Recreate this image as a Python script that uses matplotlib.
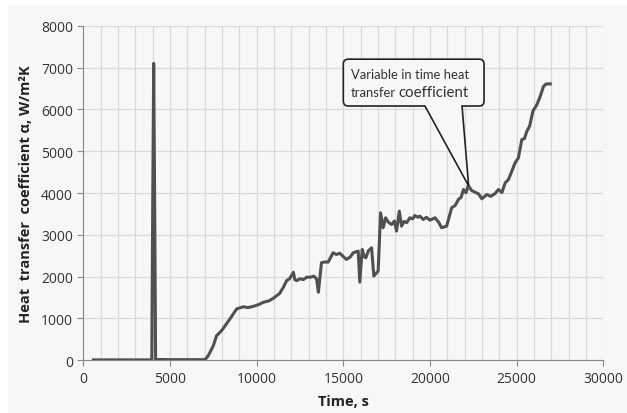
import matplotlib.pyplot as plt
from matplotlib.path import Path
from matplotlib.patches import PathPatch, Rectangle

# time, s
time = [580, 1500, 3000, 3950, 4000, 4060, 4120, 4170, 5000, 6000, 7020,
        7210, 7500, 7690, 7980, 8460, 8850, 9230, 9500, 9810, 10100, 10380,
        10700, 10960, 11330, 11540, 11730, 11900, 12120, 12200, 12310,
        12500, 12700, 12900, 13080, 13300, 13460, 13560,
        13740, 13900, 14125, 14410, 14600, 14800, 15000, 15180, 15400,
        15570, 15860, 15950, 16090, 16200,
        16300, 16450, 16630, 16760, 17010, 17150, 17300, 17440, 17600,
        17790, 17950, 18070, 18230, 18360, 18500, 18650, 18840, 19000,
        19130, 19300, 19420, 19610, 19800, 20000, 20290, 20500, 20670,
        20960, 21250, 21450, 21640, 21800, 21930, 22080, 22210, 22400,
        22600, 22800, 22990, 23280, 23500, 23760, 23950, 24150, 24340,
        24530, 24700, 24910, 25100, 25300, 25450, 25590, 25750, 25935,
        26170, 26350, 26550, 26700, 26940]
# heat transfer coefficient, W/m2K
alpha = [10, 10, 10, 10, 3500, 7100, 3500, 20, 15, 15, 15,
         110, 350, 590, 710, 990, 1230, 1280, 1260, 1290, 1330, 1386,
         1420, 1482, 1600, 1745, 1904, 1950, 2104, 1930, 1904,
         1950, 1930, 1990, 1985, 2010, 1944, 1626,
         2333, 2350, 2348, 2571, 2530, 2560, 2480, 2412, 2470,
         2571, 2610, 1870, 2650, 2480,
         2450, 2620, 2690, 2014, 2133, 3527, 3170, 3408, 3300,
         3248, 3330, 3089, 3566, 3207, 3320, 3290, 3408, 3380,
         3463, 3420, 3447, 3367, 3420, 3350, 3408, 3300, 3170,
         3207, 3646, 3700, 3845, 3900, 4084, 4005, 4179, 4060,
         4020, 3980, 3861, 3964, 3920, 3988, 4084, 4010, 4243,
         4322, 4500, 4721, 4840, 5278, 5300, 5476, 5600, 5954,
         6113, 6300, 6550, 6608, 6608]

plt.rcParams['font.family'] = ['Open Sans', 'DejaVu Sans']

bg = '#f7f7f7'
fig = plt.figure(figsize=(6.27, 4.14), dpi=100, facecolor='white')
fig.patches.append(Rectangle((8 / 627, 0), 1, 1 - 7 / 414, transform=fig.transFigure,
                             facecolor=bg, edgecolor='none', zorder=-10))
ax = fig.add_axes([0.1329, 0.1273, 0.8293, 0.8082])
ax.set_facecolor(bg)

ax.plot(time, alpha, color='#505050', lw=2.2, zorder=3)

ax.set_xlim(0, 30000)
ax.set_ylim(0, 8000)
ax.set_xticks(range(0, 30001, 5000))
ax.set_xticks(range(0, 30001, 1000), minor=True)
ax.set_yticks(range(0, 8001, 1000))
ax.grid(True, which='both', axis='x', color='#d9d9d9', lw=0.9)
ax.grid(True, which='major', axis='y', color='#d9d9d9', lw=0.9)
ax.set_axisbelow(True)
for s in ['top', 'right']:
    ax.spines[s].set_visible(False)
for s in ['left', 'bottom']:
    ax.spines[s].set_color('#888888')
ax.tick_params(axis='both', which='major', length=4, color='#888888',
               labelsize=10, labelcolor='#333333')
ax.tick_params(axis='x', which='minor', length=0)

ax.set_xlabel('Time, s', fontsize=10.5, fontweight='bold', color='#222222', labelpad=6)
ax.set_ylabel('Heat  transfer  coefficient α, W/m²K', fontsize=10.5,
              fontweight='bold', color='#222222', labelpad=6)

# callout
L, R, B, T = 15000, 23120, 6080, 7200
w1, w2 = 19710, 21850
tip = (22230, 4170)
rx, ry = 290, 120
verts = [(L + rx, B), (w1, B), tip, (w2, B), (R - rx, B),
         (R, B), (R, B + ry), (R, T - ry),
         (R, T), (R - rx, T), (L + rx, T),
         (L, T), (L, T - ry), (L, B + ry),
         (L, B), (L + rx, B), (L + rx, B)]
codes = [Path.MOVETO, Path.LINETO, Path.LINETO, Path.LINETO, Path.LINETO,
         Path.CURVE3, Path.CURVE3, Path.LINETO,
         Path.CURVE3, Path.CURVE3, Path.LINETO,
         Path.CURVE3, Path.CURVE3, Path.LINETO,
         Path.CURVE3, Path.CURVE3, Path.CLOSEPOLY]
ax.add_patch(PathPatch(Path(verts, codes), facecolor=bg, edgecolor='#222222',
                       lw=1.2, zorder=4))
ax.text(15445, 6850, 'Variable in time heat', fontsize=9.4, family='Lato',
        color='#333333', va='center', zorder=5)
ax.text(15445, 6420, 'transfer', fontsize=9.4, family='Lato',
        color='#333333', va='center', zorder=5)
ax.text(18200, 6420, 'coefficient', fontsize=10.8, family='Lato',
        color='#333333', va='center', zorder=5)

plt.savefig('out.png', dpi=100, facecolor=fig.get_facecolor())
